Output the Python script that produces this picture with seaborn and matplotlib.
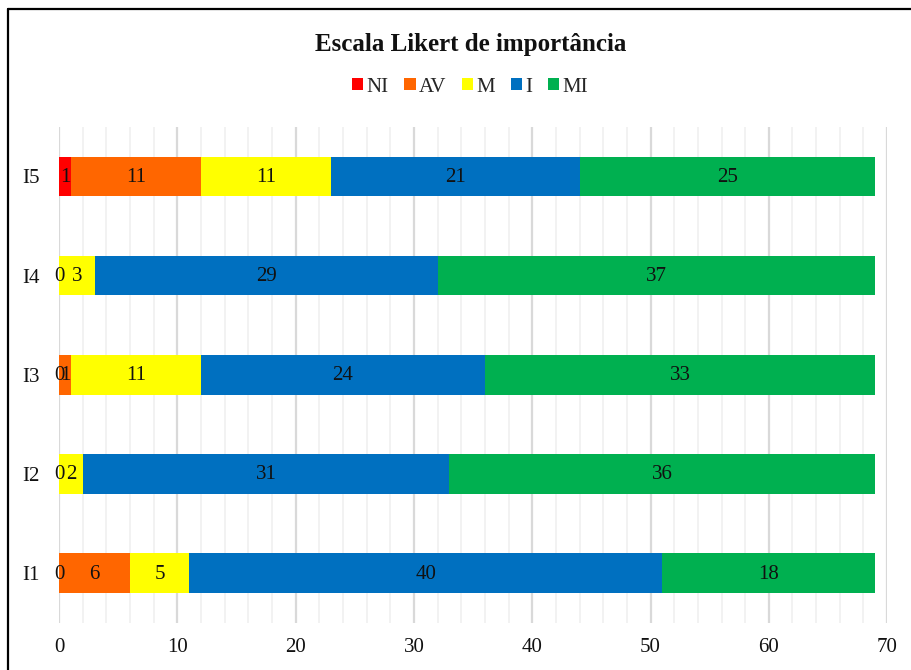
import numpy as np
import pandas as pd
import seaborn as sns
import matplotlib
matplotlib.use("Agg")
import matplotlib.pyplot as plt
from matplotlib.patches import Patch
from matplotlib.lines import Line2D
from matplotlib.ticker import MultipleLocator

items = ["I5", "I4", "I3", "I2", "I1"]
levels = ["NI", "AV", "M", "I", "MI"]
NI = [1, 0, 0, 0, 0]
AV = [11, np.nan, 1, np.nan, 6]
M = [11, 3, 11, 2, 5]
I = [21, 29, 24, 31, 40]
MI = [25, 37, 33, 36, 18]
colors = ["#FF0000", "#FF6600", "#FFFF00", "#0070C0", "#00B050"]

sns.set_theme(style="white")
plt.rcParams["font.family"] = ["Liberation Serif", "DejaVu Serif"]

df = pd.DataFrame({"item": items, "NI": NI, "AV": AV, "M": M, "I": I, "MI": MI})
vals = df[levels].fillna(0)
cum = vals.cumsum(axis=1)

fig = plt.figure(figsize=(9.11, 6.7), dpi=100)
ax = fig.add_axes([0.0648, 0.0707, 0.909, 0.740])

for lvl, col in reversed(list(zip(levels, colors))):
    sns.barplot(x=cum[lvl], y=df["item"], orient="h", color=col, width=0.4,
                saturation=1, ax=ax, order=items, linewidth=0, zorder=3)

for i in range(len(items)):
    start = 0.0
    for lvl in levels:
        v = df[lvl].iloc[i]
        if not pd.isna(v):
            ax.text(start + v / 2, i + 0.01, f"{int(v)}", ha="center", va="center",
                    fontsize=15, color="#111111", zorder=5)
            start += v

ax.set_xlim(0, 70)
ax.set_ylim(4.5, -0.5)
ax.xaxis.set_major_locator(MultipleLocator(10))
ax.xaxis.set_minor_locator(MultipleLocator(2))
ax.grid(axis="x", which="major", color="#D9D9D9", linewidth=1.6, zorder=0)
ax.grid(axis="x", which="minor", color="#F2F2F2", linewidth=1.4, zorder=0)
ax.set_axisbelow(True)
for s in ax.spines.values():
    s.set_visible(False)
ax.set_xlabel("")
ax.set_ylabel("")
ax.tick_params(axis="both", which="both", length=0, labelsize=15, colors="#111111")
ax.tick_params(axis="x", pad=11)
ax.tick_params(axis="y", pad=14)

fig.text(471 / 911, 1 - 45 / 670, "Escala Likert de importância", ha="center", va="center",
         fontsize=18, fontweight="bold", color="#111111")
handles = [Patch(facecolor=c, edgecolor="none", label=l) for l, c in zip(levels, colors)]
fig.legend(handles=handles, loc="center", bbox_to_anchor=(470 / 911, 1 - 87 / 670), ncol=5,
           frameon=False, fontsize=15, handlelength=0.55, handleheight=0.55,
           handletextpad=0.15, columnspacing=0.75)

fig.add_artist(Line2D([8 / 911, 8 / 911], [0, 1 - 9 / 670], transform=fig.transFigure,
                      color="black", linewidth=1.6))
fig.add_artist(Line2D([8 / 911, 1], [1 - 9 / 670, 1 - 9 / 670], transform=fig.transFigure,
                      color="black", linewidth=1.6))

fig.savefig("out.png", dpi=100)
